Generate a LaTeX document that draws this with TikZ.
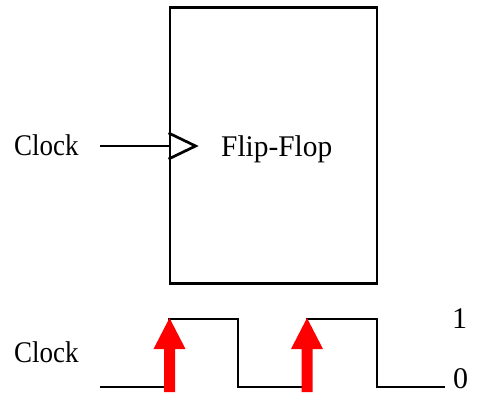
\documentclass[tikz,border=0pt]{standalone}
\usepackage{fontspec}
\setmainfont{Liberation Serif}
\begin{document}
\begin{tikzpicture}[x=1pt,y=-1pt,
  lbl/.style={inner sep=0pt,anchor=base west,font=\fontsize{30}{32}\selectfont},
  wire/.style={line width=2.7pt,line cap=butt,line join=miter},
  redarrow/.style={fill=red}]
\useasboundingbox (0,0) rectangle (479,402);
% flip-flop box
\node[draw,line width=2.8pt,minimum width=207pt,minimum height=276pt,inner sep=0pt] (ff) at (273.5,145.5) {};
\node[lbl] (fftext) at (221,156) {\scalebox{0.98}[1]{Flip-Flop}};
% clock input
\node[lbl] (clk1) at (14,155) {\scalebox{0.9}[1]{Clock}};
\coordinate (cin) at (100,146);
\coordinate (ffin) at (ff.west |- cin);
\draw[wire] (cin) -- (ffin);
\draw[line width=2.7pt,line join=miter] ([yshift=13pt]ffin) -- ++(27,13) -- ++(-27,13);
% waveform
\node[lbl] (clk2) at (14,362) {\scalebox{0.9}[1]{Clock}};
\node[lbl] (one) at (452,328) {1};
\node[lbl] (zero) at (453,388) {0};
\coordinate (w0) at (100,387);
\coordinate (w1) at (169.5,387);
\coordinate (w2) at (169.5,319);
\coordinate (w3) at (238,319);
\coordinate (w4) at (238,387);
\coordinate (w5) at (307,387);
\coordinate (w6) at (307,319);
\coordinate (w7) at (377,319);
\coordinate (w8) at (377,387);
\coordinate (w9) at (445,387);
\draw[wire] (w0) -- (w1) -- (w2) -- (w3) -- (w4) -- (w5) -- (w6) -- (w7) -- (w8) -- (w9);
% red arrows
\foreach \cx in {169.5,307}{
  \fill[redarrow] (\cx-5.5,392) -- (\cx+5.5,392) -- (\cx+5.5,349) -- (\cx+16,349)
     -- (\cx,318) -- (\cx-16,349) -- (\cx-5.5,349) -- cycle;
}
\end{tikzpicture}
\end{document}
